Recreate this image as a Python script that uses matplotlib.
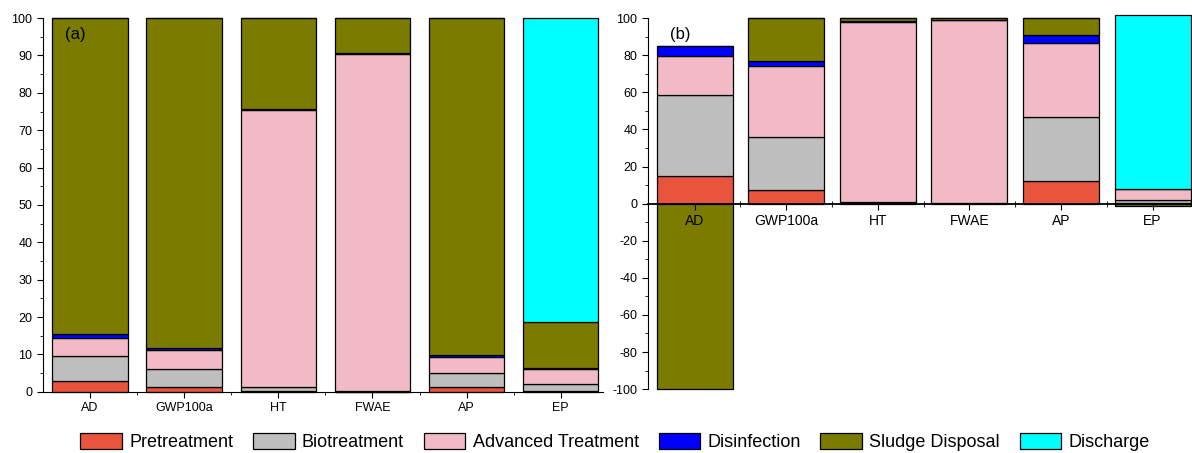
import numpy as np
import matplotlib
matplotlib.use('Agg')
import matplotlib.pyplot as plt
from matplotlib.patches import Patch
from matplotlib.ticker import MultipleLocator, FixedLocator

plt.rcParams['font.family'] = ['Liberation Sans', 'DejaVu Sans']
plt.rcParams['axes.unicode_minus'] = False

categories = ['AD', 'GWP100a', 'HT', 'FWAE', 'AP', 'EP']
stages = ['Pretreatment', 'Biotreatment', 'Advanced Treatment',
          'Disinfection', 'Sludge Disposal', 'Discharge']
colors = ['#E8543C', '#BEBEBE', '#F2B9C6', '#0000FF', '#7B7B00', '#00FFFF']

# panel (a): contribution (%) of each stage, one list per stage
a_pre = [3.0, 1.3, 0.3, 0.05, 1.4, 0.3]
a_bio = [6.5, 4.9, 1.0, 0.1, 3.7, 1.7]
a_adv = [5.0, 4.9, 74.0, 90.2, 4.1, 4.2]
a_dis = [1.0, 0.5, 0.3, 0.2, 0.6, 0.1]
a_sludge = [84.5, 88.4, 24.4, 9.45, 90.2, 12.4]
a_discharge = [0.0, 0.0, 0.0, 0.0, 0.0, 81.3]

# panel (b): normalised contribution, sludge disposal can be negative
b_pre = [14.8, 7.3, 0.6, 0.1, 12.0, 0.3]
b_bio = [43.7, 28.7, 0.3, 0.1, 34.8, 1.5]
b_adv = [21.0, 38.0, 97.2, 98.6, 40.0, 6.0]
b_dis = [5.5, 3.0, 0.1, 0.1, 4.0, 0.0]
b_sludge = [-100.0, 23.0, 1.8, 1.1, 9.2, -1.5]
b_discharge = [0.0, 0.0, 0.0, 0.0, 0.0, 93.7]

data_a = [a_pre, a_bio, a_adv, a_dis, a_sludge, a_discharge]
data_b = [b_pre, b_bio, b_adv, b_dis, b_sludge, b_discharge]


def stacked(ax, data, width):
    x = np.arange(len(categories))
    pos = np.zeros(len(categories))
    neg = np.zeros(len(categories))
    for vals, c in zip(data, colors):
        vals = np.array(vals)
        bottom = np.where(vals >= 0, pos, neg)
        ax.bar(x, vals, width, bottom=bottom, color=c, edgecolor='black',
               linewidth=0.9, clip_on=False, zorder=2)
        pos = pos + np.where(vals >= 0, vals, 0)
        neg = neg + np.where(vals < 0, vals, 0)
    ax.set_axisbelow(False)
    ax.set_xticks(x)
    ax.set_xticklabels(categories, fontsize=9)
    ax.xaxis.set_minor_locator(FixedLocator(x[:-1] + 0.5))
    for s in ['top', 'right']:
        ax.spines[s].set_visible(False)
    ax.tick_params(axis='y', labelsize=9, direction='out', length=4)
    ax.tick_params(axis='y', which='minor', direction='out', length=2)
    ax.tick_params(axis='x', which='major', direction='out', length=4)
    ax.tick_params(axis='x', which='minor', direction='out', length=2)


fig = plt.figure(figsize=(11.92, 4.53), dpi=100)

ax1 = fig.add_axes([0.036, 0.135, 0.47, 0.825])
stacked(ax1, data_a, 0.8)
ax1.set_xlim(-0.5, 5.45)
ax1.set_ylim(0, 100)
ax1.yaxis.set_major_locator(MultipleLocator(10))
ax1.yaxis.set_minor_locator(MultipleLocator(5))
ax1.text(0.04, 0.975, '(a)', transform=ax1.transAxes, fontsize=12, va='top')

ax2 = fig.add_axes([0.5436, 0.141, 0.4564, 0.819])
stacked(ax2, data_b, 0.83)
ax2.set_xlim(-0.51, 5.43)
ax2.set_ylim(-100, 100)
ax2.spines['bottom'].set_position(('data', 0))
ax2.spines['bottom'].set_linewidth(1.3)
ax2.spines['bottom'].set_zorder(3)
ax2.yaxis.set_major_locator(MultipleLocator(20))
ax2.yaxis.set_minor_locator(MultipleLocator(10))
ax2.tick_params(axis='x', which='minor', direction='inout', length=4)
ax2.text(0.04, 0.975, '(b)', transform=ax2.transAxes, fontsize=12, va='top')

handles = [Patch(facecolor=c, edgecolor='black', linewidth=0.9) for c in colors]
fig.legend(handles, stages, loc='center', bbox_to_anchor=(0.516, 0.024),
           ncol=6, frameon=False, fontsize=13, handlelength=2.3,
           handleheight=1.0, handletextpad=0.4, columnspacing=1.1)

fig.savefig('out.png', dpi=100)
